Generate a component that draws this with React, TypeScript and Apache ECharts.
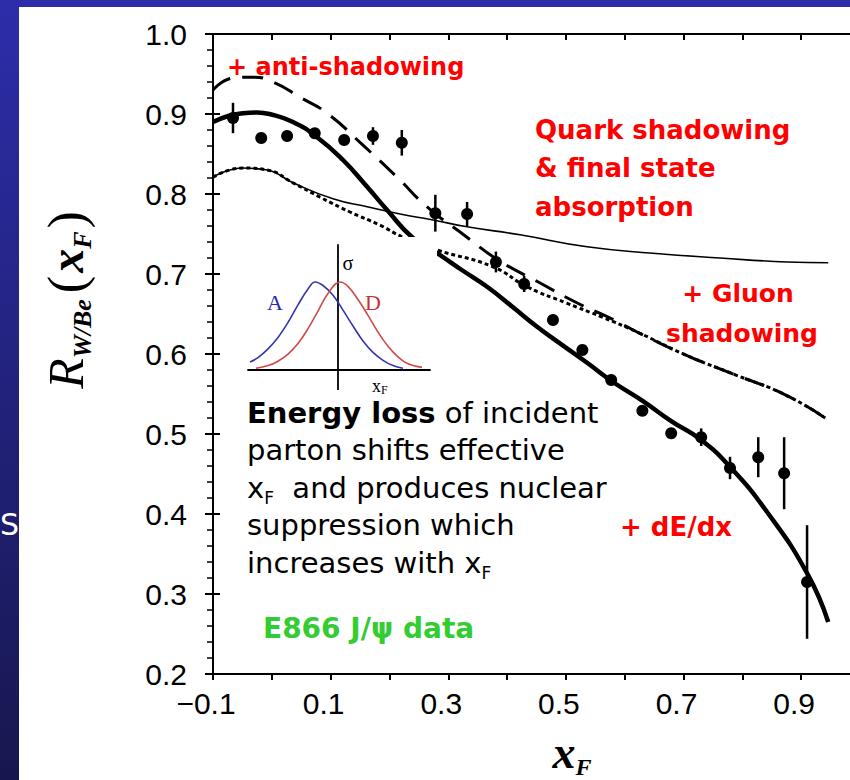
import React, { useEffect, useRef } from 'react';
import * as echarts from 'echarts';

// E866 J/psi data points: x_F, R(W/Be), error
const dataX = [-0.066, -0.018, 0.026, 0.073, 0.123, 0.172, 0.221, 0.278, 0.332, 0.381, 0.429, 0.478, 0.528, 0.577, 0.630, 0.679, 0.730, 0.779, 0.827, 0.871, 0.910];
const dataY = [0.895, 0.870, 0.8725, 0.876, 0.8675, 0.8725, 0.864, 0.776, 0.775, 0.715, 0.6875, 0.6425, 0.605, 0.5675, 0.529, 0.501, 0.496, 0.4575, 0.471, 0.451, 0.315];
const dataErr = [0.019, 0, 0, 0, 0, 0.011, 0.016, 0.023, 0.015, 0.013, 0.010, 0, 0, 0, 0, 0, 0.011, 0.014, 0.025, 0.045, 0.071];

// + dE/dx (thick solid)
const thickX = [-0.100, -0.074, -0.049, -0.025, -0.004, 0.036, 0.077, 0.121, 0.162, 0.196, 0.240, 0.281, 0.323, 0.366, 0.409, 0.451, 0.494, 0.536, 0.580, 0.631, 0.679, 0.730, 0.779, 0.842, 0.910, 0.946];
const thickY = [0.890, 0.8975, 0.901, 0.902, 0.900, 0.890, 0.871, 0.8425, 0.809, 0.780, 0.745, 0.726, 0.705, 0.684, 0.659, 0.634, 0.611, 0.589, 0.565, 0.541, 0.516, 0.4925, 0.459, 0.4025, 0.326, 0.265];

// + anti-shadowing (dashed)
const dashX = [-0.100, -0.066, -0.032, 0.002, 0.048, 0.094, 0.155, 0.213, 0.264, 0.329, 0.388, 0.453, 0.516, 0.582, 0.621, 0.703, 0.788, 0.873, 0.941];
const dashY = [0.930, 0.945, 0.946, 0.940, 0.921, 0.901, 0.861, 0.821, 0.784, 0.7475, 0.716, 0.690, 0.665, 0.6425, 0.6275, 0.599, 0.574, 0.549, 0.520];

// + gluon shadowing (dotted)
const dotX = [-0.100, -0.049, -0.008, 0.036, 0.082, 0.133, 0.184, 0.223, 0.281, 0.376, 0.434, 0.500, 0.562, 0.621, 0.703, 0.788, 0.873, 0.941];
const dotY = [0.821, 0.8325, 0.830, 0.814, 0.796, 0.7775, 0.761, 0.746, 0.730, 0.709, 0.684, 0.664, 0.646, 0.6275, 0.599, 0.574, 0.549, 0.520];

// quark shadowing & final state absorption (thin solid)
const thinX = [-0.100, -0.049, -0.008, 0.036, 0.104, 0.162, 0.218, 0.274, 0.332, 0.422, 0.536, 0.648, 0.762, 0.876, 0.946];
const thinY = [0.821, 0.8325, 0.830, 0.814, 0.794, 0.784, 0.775, 0.7675, 0.759, 0.749, 0.734, 0.726, 0.720, 0.715, 0.714];

// inset sketch: cross sections vs x_F for A and D
const insetAX = [-88, -80, -70, -60, -50, -40, -30, -23, -15, -5, 5, 15, 25, 35, 45, 55, 65];
const insetAY = [0.09, 0.14, 0.24, 0.37, 0.54, 0.74, 0.92, 1.0, 0.96, 0.85, 0.68, 0.50, 0.33, 0.20, 0.11, 0.05, 0.02];
const insetDX = [-82, -70, -60, -50, -40, -30, -20, -10, 2, 10, 20, 30, 40, 50, 60, 70, 84];
const insetDY = [0.02, 0.05, 0.10, 0.18, 0.30, 0.47, 0.67, 0.87, 1.0, 0.95, 0.80, 0.62, 0.43, 0.27, 0.15, 0.07, 0.03];

const yTickFmt = (v: number) => v.toFixed(1);
const xTickFmt = (v: number) => {
  const k = Math.round(v * 10);
  if (Math.abs(k) % 2 !== 1) return '';
  return (k < 0 ? '\u2212' : '') + Math.abs(k / 10).toFixed(1);
};

const zip = (xs: number[], ys: number[]) => xs.map((x, i) => [x, ys[i]]);

const AX = 'Liberation Sans, Arial, sans-serif';
const SERIF = 'Liberation Serif, Times New Roman, serif';
const COMIC = 'DejaVu Sans, sans-serif';

export default function App() {
  const ref = useRef<HTMLDivElement>(null);
  useEffect(() => {
    const chart = echarts.init(ref.current!, undefined, { renderer: 'svg' });

    const curve = (xs: number[], ys: number[], width: number, type: any) => ({
      type: 'line',
      xAxisIndex: 0,
      yAxisIndex: 0,
      data: zip(xs, ys),
      symbol: 'none',
      showSymbol: false,
      smooth: 0.5,
      silent: true,
      z: 2,
      lineStyle: { color: '#000', width, type },
    });

    const insetCurve = (xs: number[], ys: number[], color: string) => ({
      type: 'line',
      xAxisIndex: 2,
      yAxisIndex: 2,
      data: zip(xs, ys),
      symbol: 'none',
      showSymbol: false,
      smooth: 0.4,
      silent: true,
      z: 60,
      lineStyle: { color, width: 1.6 },
    });

    const redText = (text: string, x: number, y: number, size: number, align = 'left') => ({
      type: 'text',
      x,
      y,
      z: 70,
      style: {
        text,
        fill: '#ff0000',
        fontFamily: COMIC,
        fontWeight: 'bold',
        fontSize: size,
        textAlign: align,
        align,
        textVerticalAlign: 'middle',
        verticalAlign: 'middle',
      },
    });

    const option: any = {
      animation: false,
      grid: [
        { left: 213, top: 34, height: 640, width: 647, show: false, outerBoundsMode: 'none', containLabel: false },
        { left: 248, top: 245, width: 182, height: 125, show: false, outerBoundsMode: 'none', containLabel: false },
      ],
      xAxis: [
        {
          type: 'value', gridIndex: 0, position: 'bottom', min: -0.1, max: 1.0, interval: 0.1,
          axisLine: { onZero: false, lineStyle: { color: '#000', width: 2 } },
          axisTick: { inside: false, length: 6, lineStyle: { color: '#000', width: 2 } },
          axisLabel: { formatter: xTickFmt, color: '#000', fontSize: 30, fontFamily: AX, margin: 14, showMaxLabel: false, padding: [0, 14, 0, 0] },
          splitLine: { show: false },
        },
        {
          type: 'value', gridIndex: 0, position: 'top', min: -0.1, max: 1.0, interval: 0.1,
          axisLine: { onZero: false, lineStyle: { color: '#000', width: 2 } },
          axisTick: { inside: true, length: 6, lineStyle: { color: '#000', width: 2 } },
          axisLabel: { show: false },
          splitLine: { show: false },
        },
        {
          type: 'value', gridIndex: 1, min: -90, max: 92, z: 60,
          axisLine: { onZero: false, lineStyle: { color: '#000', width: 1.8 } },
          axisTick: { show: false }, axisLabel: { show: false }, splitLine: { show: false },
        },
      ],
      yAxis: [
        {
          type: 'value', gridIndex: 0, position: 'left', min: 0.2, max: 1.0, interval: 0.1,
          axisLine: { onZero: false, lineStyle: { color: '#000', width: 2 } },
          axisTick: { inside: false, length: 8, lineStyle: { color: '#000', width: 2 } },
          minorTick: { show: true, splitNumber: 5, length: 6, lineStyle: { color: '#000', width: 1.5 } },
          axisLabel: { formatter: yTickFmt, color: '#000', fontSize: 30, fontFamily: AX, margin: 26 },
          splitLine: { show: false }, minorSplitLine: { show: false },
        },
        {
          type: 'value', gridIndex: 0, position: 'left', min: 0.2, max: 1.0, interval: 0.1,
          axisLine: { show: false, onZero: false },
          axisTick: { inside: true, length: 7, lineStyle: { color: '#000', width: 2 } },
          axisLabel: { show: false }, splitLine: { show: false },
        },
        {
          type: 'value', gridIndex: 1, min: 0, max: 1.42, z: 60,
          axisLine: { onZero: true, lineStyle: { color: '#000', width: 1.8 } },
          axisTick: { show: false }, axisLabel: { show: false }, splitLine: { show: false },
        },
      ],
      series: [
        curve(thinX, thinY, 1.6, 'solid'),
        curve(dotX, dotY, 3, [4, 3]),
        curve(dashX, dashY, 3, [21, 12]),
        curve(thickX, thickY, 4.5, 'solid'),
        {
          type: 'custom',
          xAxisIndex: 0,
          yAxisIndex: 0,
          z: 3,
          silent: true,
          data: dataX.map((x, i) => [x, dataY[i], dataErr[i]]),
          encode: { x: 0, y: 1 },
          renderItem: (params: any, api: any) => {
            const x = api.value(0);
            const y = api.value(1);
            const e = api.value(2);
            if (!e) return { type: 'group', children: [] };
            const p1 = api.coord([x, y + e]);
            const p2 = api.coord([x, y - e]);
            return {
              type: 'line',
              shape: { x1: p1[0], y1: p1[1], x2: p2[0], y2: p2[1] },
              style: { stroke: '#000', lineWidth: 2.5 },
            };
          },
        },
        {
          type: 'scatter',
          xAxisIndex: 0,
          yAxisIndex: 0,
          z: 4,
          silent: true,
          symbol: 'circle',
          symbolSize: 12,
          itemStyle: { color: '#000', opacity: 1 },
          data: zip(dataX, dataY),
        },
        insetCurve(insetAX, insetAY, '#3535b0'),
        insetCurve(insetDX, insetDY, '#cf4a4a'),
      ],
      graphic: [
        {
          type: 'rect', z: -100, silent: true,
          shape: { x: 0, y: 0, width: 850, height: 780 },
          style: {
            fill: new echarts.graphic.LinearGradient(0, 0, 0, 1, [
              { offset: 0, color: '#2d2daa' },
              { offset: 1, color: '#17174f' },
            ]),
          },
        },
        { type: 'rect', z: -99, silent: true, shape: { x: 19, y: 7, width: 840, height: 780 }, style: { fill: '#ffffff' } },
        {
          type: 'text', x: 0, y: 524, z: -98,
          style: { text: 'S', fill: '#ffffff', fontFamily: 'DejaVu Sans, sans-serif', fontSize: 30, textVerticalAlign: 'middle', verticalAlign: 'middle' },
        },
        // y axis title
        {
          type: 'text', x: 66, y: 300, rotation: Math.PI / 2, z: 70,
          style: {
            text: '{R|R}{s|W/Be}{p|(}{x|x}{f|F}{q|)}',
            textAlign: 'center', align: 'center',
            textVerticalAlign: 'middle', verticalAlign: 'middle',
            fill: '#000',
            rich: {
              R: { fontFamily: SERIF, fontStyle: 'italic', fontSize: 50, lineHeight: 58, fill: '#000' },
              s: { fontFamily: SERIF, fontStyle: 'italic', fontWeight: 'bold', fontSize: 26, lineHeight: 26, verticalAlign: 'bottom', fill: '#000', padding: [0, 6, 0, 0] },
              p: { fontFamily: SERIF, fontSize: 52, lineHeight: 58, fill: '#000', padding: [0, 3, 0, 0] },
              q: { fontFamily: SERIF, fontSize: 52, lineHeight: 58, fill: '#000', padding: [0, 0, 0, 3] },
              x: { fontFamily: SERIF, fontStyle: 'italic', fontWeight: 'bold', fontSize: 48, lineHeight: 58, fill: '#000' },
              f: { fontFamily: SERIF, fontStyle: 'italic', fontWeight: 'bold', fontSize: 26, lineHeight: 26, verticalAlign: 'bottom', fill: '#000' },
            },
          },
        },
        // x axis title
        {
          type: 'text', x: 572, y: 752, z: 70,
          style: {
            text: '{x|x}{f|F}',
            textAlign: 'center', align: 'center',
            textVerticalAlign: 'middle', verticalAlign: 'middle',
            rich: {
              x: { fontFamily: SERIF, fontStyle: 'italic', fontWeight: 'bold', fontSize: 46, lineHeight: 54, fill: '#000' },
              f: { fontFamily: SERIF, fontStyle: 'italic', fontWeight: 'bold', fontSize: 24, lineHeight: 24, verticalAlign: 'bottom', fill: '#000' },
            },
          },
        },
        redText('+ anti-shadowing', 227, 67, 24),
        redText('Quark shadowing', 535, 130, 26),
        redText('& final state', 535, 168, 26),
        redText('absorption', 535, 207, 26),
        redText('+ Gluon', 738, 293, 25, 'center'),
        redText('shadowing', 742, 333, 25, 'center'),
        redText('+ dE/dx', 620, 527, 26),
        {
          type: 'text', x: 263, y: 628, z: 70,
          style: {
            text: 'E866 J/\u03c8 data', fill: '#33cc33', fontFamily: COMIC, fontWeight: 'bold', fontSize: 28,
            textVerticalAlign: 'middle', verticalAlign: 'middle',
          },
        },
        {
          type: 'text', x: 247, y: 394, z: 70,
          style: {
            text: '{b|Energy loss} of incident\nparton shifts effective\nx{f|F}  and produces nuclear\nsuppression which\nincreases with x{f|F}',
            fill: '#000', fontFamily: COMIC, fontSize: 29, lineHeight: 37.5,
            textVerticalAlign: 'top', verticalAlign: 'top',
            rich: {
              b: { fontFamily: COMIC, fontWeight: 'bold', fontSize: 29, lineHeight: 37.5, fill: '#000' },
              f: { fontFamily: COMIC, fontSize: 17, lineHeight: 20, verticalAlign: 'bottom', fill: '#000' },
            },
          },
        },
        // inset sketch box
        { type: 'rect', z: 50, silent: true, shape: { x: 228, y: 237, width: 209, height: 151 }, style: { fill: '#ffffff' } },
        { type: 'line', z: 61, shape: { x1: 338, y1: 370, x2: 338, y2: 390 }, style: { stroke: '#000', lineWidth: 1.8 } },
        {
          type: 'text', x: 348, y: 263, z: 61,
          style: { text: '\u03c3', fill: '#000', fontFamily: SERIF, fontSize: 20, textAlign: 'center', align: 'center', textVerticalAlign: 'middle', verticalAlign: 'middle' },
        },
        {
          type: 'text', x: 275, y: 302, z: 61,
          style: { text: 'A', fill: '#2a2ab0', fontFamily: SERIF, fontSize: 22, textAlign: 'center', align: 'center', textVerticalAlign: 'middle', verticalAlign: 'middle' },
        },
        {
          type: 'text', x: 373, y: 302, z: 61,
          style: { text: 'D', fill: '#cc3030', fontFamily: SERIF, fontSize: 22, textAlign: 'center', align: 'center', textVerticalAlign: 'middle', verticalAlign: 'middle' },
        },
        {
          type: 'text', x: 372, y: 386, z: 61,
          style: {
            text: 'x{f|F}', fill: '#000', fontFamily: SERIF, fontSize: 18, lineHeight: 20,
            textVerticalAlign: 'middle', verticalAlign: 'middle',
            rich: { f: { fontFamily: SERIF, fontSize: 12, lineHeight: 12, verticalAlign: 'bottom', fill: '#000' } },
          },
        },
      ],
    };

    chart.setOption(option);
    return () => chart.dispose();
  }, []);

  return <div ref={ref} style={{ position: 'absolute', left: 0, top: 0, width: 850, height: 780 }} />;
}
